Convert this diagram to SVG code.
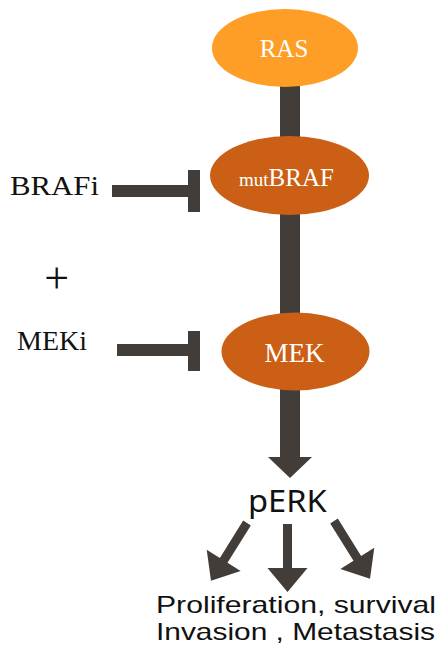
<svg xmlns="http://www.w3.org/2000/svg" xmlns:xlink="http://www.w3.org/1999/xlink" width="439" height="649" viewBox="0 0 439 649">
<style>
.bar{fill:#433d39}
.serif{font-family:"Liberation Serif","Times New Roman",serif}
.sans{font-family:"Noto Sans","DejaVu Sans",sans-serif}
.lsans{font-family:"Liberation Sans",Arial,sans-serif}
.wt{fill:#ffffff}
.bk{fill:#111111}
</style>
<defs>
<path id="arr" d="M-4.5,0 H4.5 V44 H20 L0,68 L-20,44 H-4.5 Z" class="bar"/>
</defs>
<rect width="439" height="649" fill="#ffffff"/>
<g id="connectors">
<rect class="bar" x="280" y="80" width="20" height="378"/>
<path class="bar" d="M268,457 H312 L290,478 Z"/>
<rect class="bar" x="112" y="185" width="80" height="12"/>
<rect class="bar" x="188" y="170" width="12" height="42"/>
<rect class="bar" x="117" y="344" width="75" height="12"/>
<rect class="bar" x="188" y="331" width="12" height="40"/>
<use xlink:href="#arr" transform="translate(287.5,524)"/>
<use xlink:href="#arr" transform="translate(247,523) rotate(32)"/>
<use xlink:href="#arr" transform="translate(334,521) rotate(-32)"/>
</g>
<g id="RAS">
<ellipse cx="285" cy="48" rx="73" ry="39" fill="#fe9e26"/>
<text class="serif wt" x="284" y="57" font-size="25" text-anchor="middle">RAS</text>
</g>
<g id="mutBRAF">
<ellipse cx="289.5" cy="175.5" rx="79.5" ry="39.5" fill="#ca5f15"/>
<text class="serif wt" x="239" y="185.7"><tspan font-size="19">mut</tspan><tspan font-size="25">BRAF</tspan></text>
</g>
<g id="MEK">
<ellipse cx="295.5" cy="351.5" rx="74" ry="39" fill="#ca5f15"/>
<text class="serif wt" x="294.5" y="361.7" font-size="27" text-anchor="middle">MEK</text>
</g>
<g id="BRAFi">
<text class="serif bk" x="10" y="195" font-size="28" textLength="89" lengthAdjust="spacingAndGlyphs">BRAFi</text>
</g>
<g id="plus">
<text class="serif bk" x="56.7" y="293" font-size="44" text-anchor="middle">+</text>
</g>
<g id="MEKi">
<text class="serif bk" x="17" y="350" font-size="27" textLength="70" lengthAdjust="spacingAndGlyphs">MEKi</text>
</g>
<g id="pERK">
<text class="sans bk" x="248" y="511.7" font-size="30" textLength="78.7" lengthAdjust="spacingAndGlyphs">pERK</text>
</g>
<g id="outcomes">
<text class="lsans bk" x="156" y="613" font-size="24" textLength="280" lengthAdjust="spacingAndGlyphs">Proliferation, survival</text>
<text class="lsans bk" x="156" y="640" font-size="24" textLength="279" lengthAdjust="spacingAndGlyphs">Invasion , Metastasis</text>
</g>
</svg>
